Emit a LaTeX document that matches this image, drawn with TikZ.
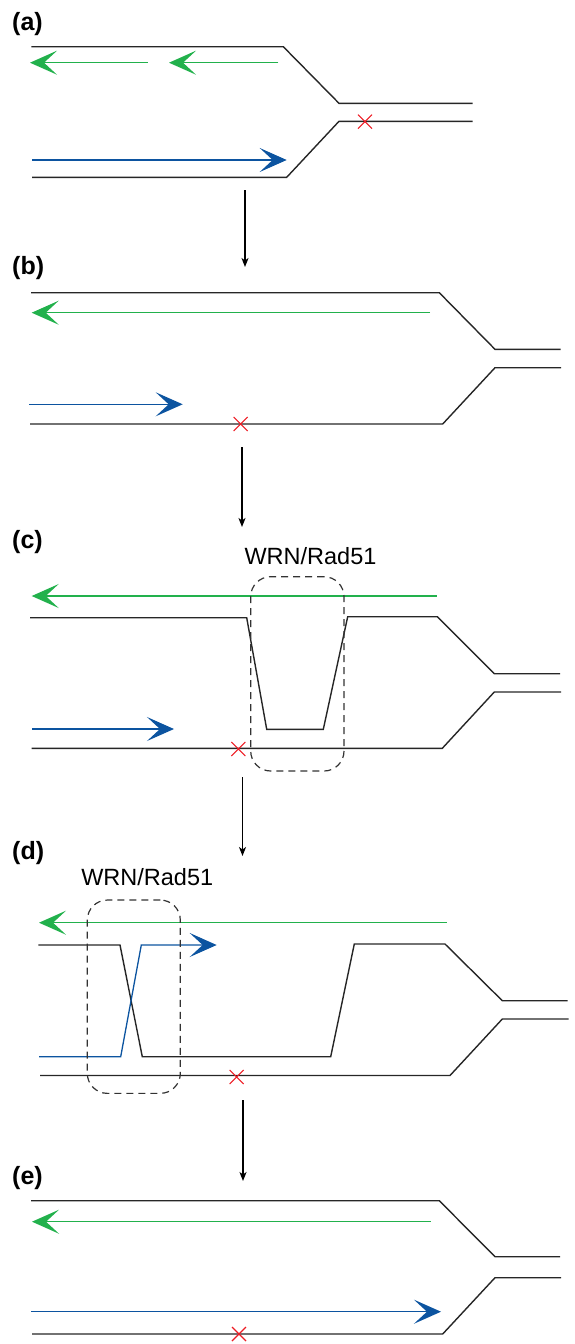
\documentclass[tikz,border=0pt]{standalone}
\usepackage{fontspec}
\setmainfont{Liberation Sans}
\usetikzlibrary{arrows.meta}
\definecolor{leadgreen}{RGB}{34,177,76}
\definecolor{nascentblue}{RGB}{12,84,160}
\definecolor{lesionred}{RGB}{237,28,36}
\begin{document}
\begin{tikzpicture}[x=1pt,y=-1pt,
  strand/.style={draw=black!85, line width=1.4pt, line join=miter},
  leading/.style={draw=leadgreen, line width=1.3pt, -{Stealth[length=27pt,width=24pt,inset=13pt]}},
  nascent/.style={draw=nascentblue, line width=1.3pt, -{Stealth[length=27pt,width=24pt,inset=13pt]}},
  stepdown/.style={draw=black, line width=1.3pt, -{Stealth[length=9pt,width=7pt,inset=2.5pt]}},
  lesion/.style={draw=lesionred, line width=1.1pt},
  complex/.style={draw=black!80, line width=1.2pt, dash pattern=on 7pt off 5pt, rounded corners=20pt, inner sep=0pt},
  panel/.style={font=\fontsize{25}{29}\selectfont\bfseries, inner sep=0pt, anchor=west},
  protein/.style={font=\fontsize{23.5}{28}\selectfont, inner sep=0pt, anchor=base}]
\useasboundingbox (0,0) rectangle (574,1344);

% ---------- (a) replication fork approaching a lesion ----------
\node[panel] (la) at (12,24) {(a)};
\draw[strand] (31.3,46.7) -- (283.3,46.7) -- (339,103.3) -- (472.7,103.3);
\draw[strand] (32,177.3) -- (286.7,177.3) -- (339,121.3) -- (472.7,121.3);
\draw[leading] (147.7,62.7) -- (30,62.7);
\draw[leading] (278.3,62.7) -- (169,62.7);
\draw[nascent] (32,160) -- (286.7,160);
\draw[lesion] (365,121.7) ++(-7,-7) -- ++(14,14) ++(0,-14) -- ++(-14,14);

% ---------- (b) fork passes, lesion left behind ----------
\node[panel] (lb) at (12,268) {(b)};
\draw[strand] (31,292.7) -- (439.3,292.7) -- (495,349.3) -- (560.7,349.3);
\draw[strand] (30,424) -- (442.7,424) -- (495,367.7) -- (561,367.7);
\draw[leading] (430,312.7) -- (31.7,312.7);
\draw[nascent] (29,404.3) -- (182.7,404.3);
\draw[lesion] (240.7,424) ++(-7,-7) -- ++(14,14) ++(0,-14) -- ++(-14,14);

% ---------- (c) WRN/Rad51 strand invasion ----------
\node[panel] (lc) at (12,542) {(c)};
\draw[strand] (30,617.7) -- (246.7,617.7) -- (266.7,729.3) -- (323.3,729.3)
  -- (347.7,616.7) -- (437.3,616.7) -- (494.3,673.7) -- (560,673.7);
\draw[strand] (31.7,748.3) -- (442.3,748.3) -- (494.3,692) -- (561,692);
\draw[leading] (436.7,596) -- (31.7,596);
\draw[nascent] (32,729) -- (174,729);
\draw[lesion] (238.3,749) ++(-7,-7) -- ++(14,14) ++(0,-14) -- ++(-14,14);
\node[complex, minimum width=93.3pt, minimum height=194.3pt] (boxc) at (297.35,673.85) {};
\node[protein] (wrnc) at (310.5,564) {WRN/Rad51};

% ---------- (d) strand exchange / template switch ----------
\node[panel] (ld) at (12,853) {(d)};
\draw[strand] (38.3,945) -- (120,945) -- (142.3,1056.7) -- (330.7,1056.7)
  -- (354.3,944) -- (445,944) -- (502.3,1000.7) -- (567.7,1000.7);
\draw[strand] (40,1075.5) -- (450,1075.5) -- (502.3,1019) -- (568.7,1019);
\draw[leading] (446.7,922.7) -- (39,922.7);
\draw[nascent] (39,1056.7) -- (120.7,1056.7) -- (141.3,945) -- (216.7,945);
\draw[lesion] (236.7,1077) ++(-7,-7) -- ++(14,14) ++(0,-14) -- ++(-14,14);
\node[complex, minimum width=93pt, minimum height=193.3pt] (boxd) at (133.8,996.7) {};
\node[protein] (wrnd) at (147.2,885) {WRN/Rad51};

% ---------- (e) replication restored past the lesion ----------
\node[panel] (le) at (12,1178) {(e)};
\draw[strand] (31,1200.7) -- (439.3,1200.7) -- (495,1256.7) -- (560,1256.7);
\draw[strand] (32,1334) -- (442.7,1334) -- (495,1277.7) -- (561,1277.7);
\draw[leading] (430.7,1221.7) -- (32,1221.7);
\draw[nascent] (31,1311.7) -- (441,1311.7);
\draw[lesion] (239,1334) ++(-7,-7) -- ++(14,14) ++(0,-14) -- ++(-14,14);

% ---------- steps between panels ----------
\coordinate (ab1) at (245,190);   \coordinate (ab2) at (245,267);
\coordinate (bc1) at (242,447);   \coordinate (bc2) at (242,527);
\coordinate (cd1) at (242.5,777); \coordinate (cd2) at (242.5,856);
\coordinate (de1) at (243,1100);  \coordinate (de2) at (243,1181);
\draw[stepdown] (ab1) -- (ab2);
\draw[stepdown] (bc1) -- (bc2);
\draw[stepdown] (cd1) -- (cd2);
\draw[stepdown] (de1) -- (de2);
\end{tikzpicture}
\end{document}
